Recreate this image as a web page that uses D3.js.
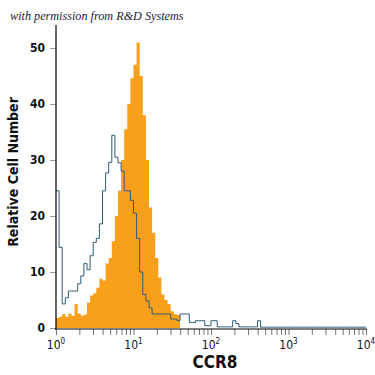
<!DOCTYPE html>
<html>
<head>
<meta charset="utf-8">
<script src="https://cdn.jsdelivr.net/npm/d3@7"></script>
<style>
  body { margin: 0; background: #fff; }
  svg { display: block; }
</style>
</head>
<body>
<script>
// histogram channels, each 0.04 decade wide, starting at 10^0
const binDecades = 0.04

// CCR8 stained cells (filled orange)
const stained = [
    1.8, 2.0, 2.5, 2.0, 2.6, 2.2, 4.3, 2.6, 2.2, 2.4,
    4.5, 5.8, 6.2, 7.2, 8.8, 8.5, 11.5, 12.5, 15.5, 20,
    24.5, 30, 35.5, 40, 44.6, 47, 51, 45, 38, 30,
    21.5, 17, 12.5, 9, 6, 5, 4.3, 3, 2.5, 2.3
]

// isotype control (blue outline)
const control = [
    24.5, 14.4, 4.3, 5.4, 6.6, 6.6, 6.6, 7.9, 9.3, 11.5,
    10.4, 12.9, 15.3, 16, 18.6, 24.5, 27.7, 29.6, 34.4, 30.5,
    29.5, 28, 24.5, 24.5, 22.8, 20.5, 16, 10, 6, 4.8,
    3.6, 2.5, 2.5, 2.5, 2.5, 2.5, 2.5, 1.6, 1.6, 1.3,
    2.5, 2.5, 2.5, 1.0, 1.0, 1.3, 1.3, 1.3, 0.4, 0.4,
    1.3, 1.3, 0.2, 0.2, 0.2, 0.2, 0.2, 1.3, 0.8, 0.2,
    0.2, 0.2, 0.2, 0.2, 0.2, 1.3, 0.15, 0.15, 0.15, 0.15,
    0.15, 0.15, 0.15, 0.15, 0.15, 0.15, 0.15, 0.15, 0.15, 0.15,
    0.15, 0.15, 0.15, 0.15, 0.15, 0.15, 0.15, 0.15, 0.15, 0.15,
    0.15, 0.15, 0.15, 0.15, 0.15, 0.15, 0.15, 0.15, 0.15, 0.15
]

const yTicks = [0, 10, 20, 30, 40, 50]
const xDecades = [0, 1, 2, 3, 4]

const [width, height] = [375, 375]
const condensed = '"Liberation Sans Narrow", "DejaVu Sans Condensed", "Roboto", sans-serif'

const x = d3.scaleLog().domain([1, 1e4]).range([56, 366])
const y = d3.scaleLinear().domain([0, 50]).range([328, 48])

const svg = d3.select('body').append('svg')
    .attr('width', width)
    .attr('height', height)

// turn a list of counts into step points (left edge of each channel + closing edge)
const toSteps = (counts) => {
    const pts = counts.map((v, i) => ({ lo: Math.pow(10, i * binDecades), v: v }))
    pts.push({ lo: Math.pow(10, counts.length * binDecades), v: counts[counts.length - 1] })
    return pts
}

const stainedArea = d3.area()
    .curve(d3.curveStepAfter)
    .x(d => x(d.lo))
    .y0(y(0))
    .y1(d => y(d.v))

svg.append('path')
    .datum(toSteps(stained))
    .attr('fill', '#f8a01c')
    .attr('d', stainedArea)

const controlLine = d3.line()
    .curve(d3.curveStepAfter)
    .x(d => x(d.lo))
    .y(d => y(d.v))

svg.append('path')
    .datum(toSteps(control))
    .attr('fill', 'none')
    .attr('stroke', '#2e5a78')
    .attr('stroke-width', 1)
    .attr('d', controlLine)

// y axis
const yAxis = svg.append('g')
    .attr('transform', 'translate(56,0)')
    .call(d3.axisLeft(y).tickValues(yTicks).tickSize(6).tickPadding(5))
yAxis.select('.domain').remove()
yAxis.selectAll('.tick line').attr('stroke', '#999')
yAxis.selectAll('.tick text')
    .attr('font-family', condensed)
    .attr('font-weight', 'bold')
    .attr('font-size', 12)
    .attr('fill', '#111')

svg.append('line')
    .attr('x1', 56).attr('x2', 56)
    .attr('y1', 25).attr('y2', 330)
    .attr('stroke', '#000').attr('stroke-width', 1.2)

// x axis, minor ticks for 2..9 of every decade
const xTickValues = []
xDecades.forEach(d => {
    for (let m = 1; m <= 9; m++) {
        const v = m * Math.pow(10, d)
        if (v <= 1e4) xTickValues.push(v)
    }
})

const xAxis = svg.append('g')
    .attr('transform', 'translate(0,329)')
    .call(d3.axisBottom(x).tickValues(xTickValues).tickSize(6).tickFormat(''))
xAxis.select('.domain').remove()
xAxis.selectAll('.tick line').attr('stroke', '#777')

svg.append('line')
    .attr('x1', 55).attr('x2', 367)
    .attr('y1', 329).attr('y2', 329)
    .attr('stroke', '#000').attr('stroke-width', 1.2)

const xLabels = svg.append('g')
    .selectAll('text')
    .data(xDecades)
    .enter()
    .append('text')
        .attr('x', d => x(Math.pow(10, d)))
        .attr('y', 349)
        .attr('text-anchor', 'middle')
        .attr('font-family', condensed)
        .attr('font-size', 12)
        .attr('fill', '#111')
xLabels.append('tspan').text('10')
xLabels.append('tspan')
    .text(d => d)
    .attr('font-size', 8)
    .attr('dy', -5)

// axis titles
svg.append('text')
    .attr('x', 215)
    .attr('y', 368)
    .attr('text-anchor', 'middle')
    .attr('font-family', condensed)
    .attr('font-weight', 'bold')
    .attr('font-size', 17)
    .attr('fill', '#111')
    .text('CCR8')

svg.append('text')
    .attr('transform', 'translate(18,172) rotate(-90)')
    .attr('text-anchor', 'middle')
    .attr('font-family', condensed)
    .attr('font-weight', 'bold')
    .attr('font-size', 14)
    .attr('fill', '#111')
    .text('Relative Cell Number')

// credit line
svg.append('text')
    .attr('x', 10)
    .attr('y', 20)
    .attr('font-family', '"Liberation Serif", "DejaVu Serif", serif')
    .attr('font-style', 'italic')
    .attr('font-size', 12.2)
    .attr('fill', '#1b2440')
    .text('with permission from R&D Systems')
</script>
</body>
</html>
